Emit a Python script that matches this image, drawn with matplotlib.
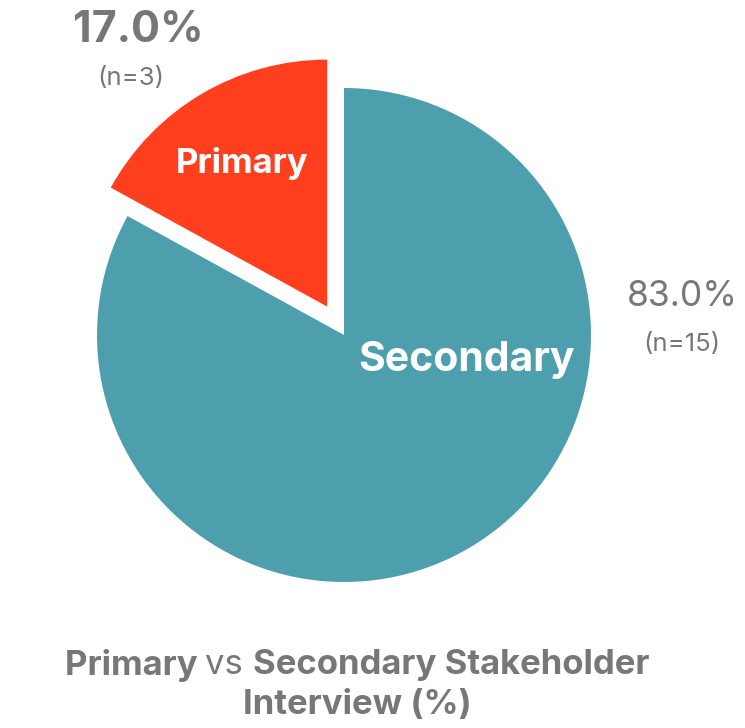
import matplotlib
matplotlib.use('Agg')
import matplotlib.pyplot as plt

# Datos del grafico
categorias = ['Secondary', 'Primary']
porcentajes = [83.0, 17.0]
conteos = [15, 3]
colores = ['#4E9FAD', '#FF3F1E']
gris = '#777777'

fig = plt.figure(figsize=(7.45, 7.28), dpi=100)
ax = fig.add_axes([0, 0, 1, 1])

# Pie: Primary arranca en 90 grados, en sentido antihorario
# (explode va en unidades de datos, igual que el radio)
wedges, _ = ax.pie(porcentajes[::-1], colors=colores[::-1], startangle=90,
                   counterclock=True, explode=[33, 0], radius=247,
                   center=(344, 728 - 335),
                   wedgeprops=dict(linewidth=0))
ax.set_xlim(0, 745)
ax.set_ylim(0, 728)
ax.set_aspect('equal')
ax.axis('off')

# Etiquetas dentro de los sectores
ax.text(242, 728 - 163, categorias[1], color='white', fontsize=25,
        fontweight='bold', family='Inter', ha='center', va='center')
ax.text(466, 728 - 360, categorias[0], color='white', fontsize=29.5,
        fontweight='bold', family='Inter', ha='center', va='center')

# Porcentajes y n
ax.text(138, 728 - 30, f'{porcentajes[1]:.1f}%', color=gris, fontsize=31,
        fontweight='bold', family='Inter', ha='center', va='center')
ax.text(131, 728 - 78, f'(n={conteos[1]})', color=gris, fontsize=18.5,
        family='Inter', ha='center', va='center')
ax.text(682, 728 - 297, f'{porcentajes[0]:.1f}%', color=gris, fontsize=25.5,
        family='Inter', ha='center', va='center')
ax.text(682, 728 - 344, f'(n={conteos[0]})', color=gris, fontsize=18.5,
        family='Inter', ha='center', va='center')

# Titulo con partes en negrita y normal
partes = [('Primary ', 'bold'), ('vs ', 'normal'), ('Secondary Stakeholder', 'bold')]
renderer = fig.canvas.get_renderer()
textos = []
ancho = 0
for s, w in partes:
    t = fig.text(0, 0, s, fontsize=25, fontweight=w, family='Inter',
                 color=gris, va='center', ha='left')
    bb = t.get_window_extent(renderer)
    textos.append((t, bb.width))
    ancho += bb.width
x0 = 357 - ancho / 2
for t, w in textos:
    t.set_position((x0 / 745, (728 - 665) / 728))
    x0 += w
fig.text(357 / 745, (728 - 705) / 728, 'Interview (%)', fontsize=25,
         fontweight='bold', family='Inter', color=gris, ha='center', va='center')

fig.savefig('out.png', dpi=100)
